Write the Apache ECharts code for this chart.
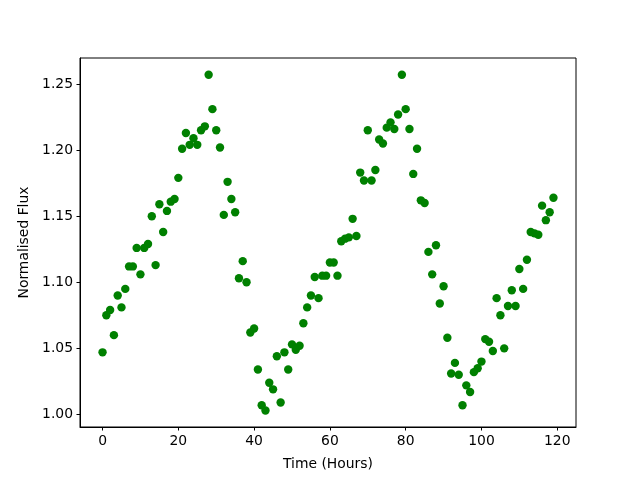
<!DOCTYPE html>
<html>
<head>
<meta charset="utf-8">
<script src="https://cdn.jsdelivr.net/npm/echarts@6/dist/echarts.min.js"></script>
<style>
  html, body { margin: 0; padding: 0; background: #fff; }
  #main { width: 640px; height: 480px; }
</style>
</head>
<body>
<div id="main"></div>
<script>
// hours 0..119, one reading per hour
var hours = [];
for (var h = 0; h < 120; h++) hours.push(h);

var flux = [
  1.047, 1.075, 1.079, 1.060, 1.090, 1.081, 1.095, 1.112, 1.112, 1.126,
  1.106, 1.126, 1.129, 1.150, 1.113, 1.159, 1.138, 1.154, 1.161, 1.163,
  1.179, 1.201, 1.213, 1.204, 1.209, 1.204, 1.215, 1.218, 1.257, 1.231,
  1.215, 1.202, 1.151, 1.176, 1.163, 1.153, 1.103, 1.116, 1.100, 1.062,
  1.065, 1.034, 1.007, 1.003, 1.024, 1.019, 1.044, 1.009, 1.047, 1.034,
  1.053, 1.049, 1.052, 1.069, 1.081, 1.090, 1.104, 1.088, 1.105, 1.105,
  1.115, 1.115, 1.105, 1.131, 1.133, 1.134, 1.148, 1.135, 1.183, 1.177,
  1.215, 1.177, 1.185, 1.208, 1.205, 1.217, 1.221, 1.216, 1.227, 1.257,
  1.231, 1.216, 1.182, 1.201, 1.162, 1.160, 1.123, 1.106, 1.128, 1.084,
  1.097, 1.058, 1.031, 1.039, 1.030, 1.007, 1.022, 1.017, 1.032, 1.035,
  1.040, 1.057, 1.055, 1.048, 1.088, 1.075, 1.050, 1.082, 1.094, 1.082,
  1.110, 1.095, 1.117, 1.138, 1.137, 1.136, 1.158, 1.147, 1.153, 1.164
];

var xTicks = [0, 20, 40, 60, 80, 100, 120];
var yTicks = [1.00, 1.05, 1.10, 1.15, 1.20, 1.25];

var points = hours.map(function (t, i) { return [t, flux[i]]; });

var font = 'DejaVu Sans';
var chart = echarts.init(document.getElementById('main'), null, { renderer: 'canvas' });
chart.setOption({
  animation: false,
  backgroundColor: '#fff',
  grid: {
    left: 80, right: 64, top: 58, bottom: 53,
    show: true, borderColor: '#000', borderWidth: 1, backgroundColor: 'transparent'
  },
  xAxis: {
    type: 'value',
    min: -5.95, max: 124.95,
    name: 'Time (Hours)',
    nameLocation: 'middle',
    nameGap: 30,
    nameTextStyle: { color: '#000', fontSize: 13.9, fontFamily: font },
    axisLine: { show: true, onZero: false, lineStyle: { color: '#000', width: 1 } },
    axisTick: { show: true, inside: false, length: 3.5, customValues: xTicks, lineStyle: { color: '#000' } },
    axisLabel: { customValues: xTicks, margin: 7, color: '#000', fontSize: 13.9, fontFamily: font },
    splitLine: { show: false }
  },
  yAxis: {
    type: 'value',
    min: 0.9905, max: 1.2697,
    name: 'Normalised Flux',
    nameLocation: 'middle',
    nameGap: 45,
    nameTextStyle: { color: '#000', fontSize: 13.9, fontFamily: font },
    axisLine: { show: true, onZero: false, lineStyle: { color: '#000', width: 1 } },
    axisTick: { show: true, inside: false, length: 3.5, customValues: yTicks, lineStyle: { color: '#000' } },
    axisLabel: {
      customValues: yTicks, margin: 7, color: '#000', fontSize: 13.9, fontFamily: font,
      formatter: function (v) { return v.toFixed(2); }
    },
    splitLine: { show: false }
  },
  series: [{
    type: 'scatter',
    data: points,
    symbol: 'circle',
    symbolSize: 8.4,
    itemStyle: { color: '#008000', opacity: 1 }
  }]
});
</script>
</body>
</html>
